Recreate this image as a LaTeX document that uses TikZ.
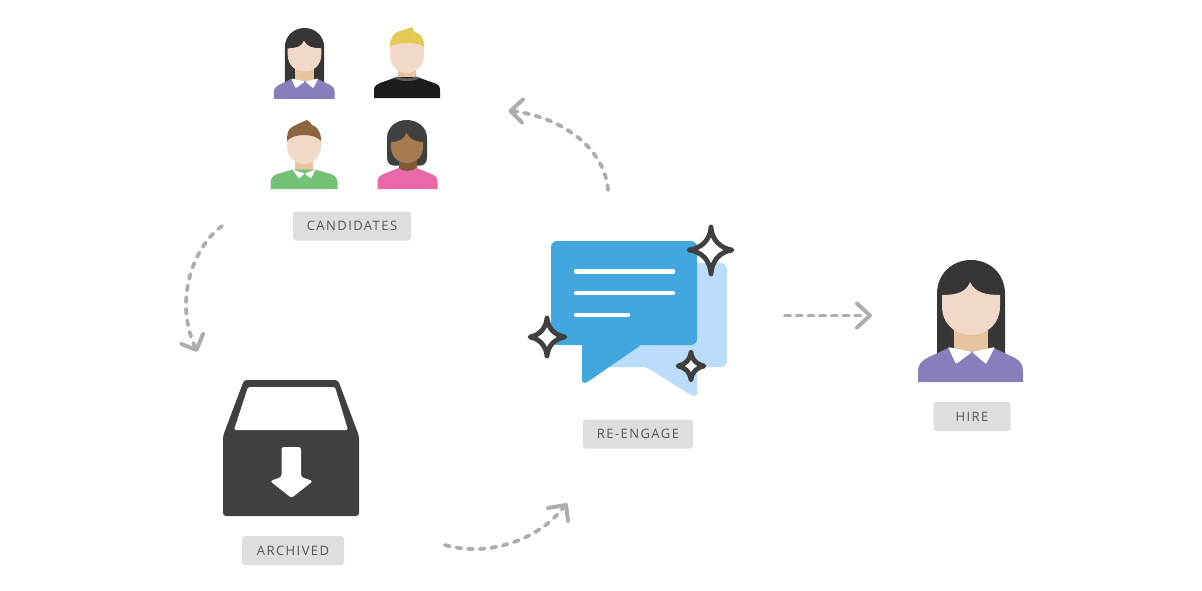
\documentclass[tikz,border=0pt]{standalone}
\usepackage{fontspec}
\setmainfont[LetterSpace=11]{Open Sans}
\definecolor{hairdark}{HTML}{363636}
\definecolor{skin}{HTML}{F2D8C6}
\definecolor{neck}{HTML}{E8C3A2}
\definecolor{purple}{HTML}{8A7DBB}
\definecolor{boxgray}{HTML}{DEDEDE}
\definecolor{txt}{HTML}{555555}
\definecolor{arrowgray}{HTML}{ADADAD}
\definecolor{bubble}{HTML}{42A6DF}
\definecolor{bubblelight}{HTML}{BBDCFB}
\definecolor{ink}{HTML}{404040}
\definecolor{blond}{HTML}{E5C955}
\definecolor{shirtblack}{HTML}{1C1C1C}
\definecolor{collargray}{HTML}{5A5A5A}
\definecolor{brownhair}{HTML}{8B6540}
\definecolor{shirtgreen}{HTML}{74C276}
\definecolor{shirtpink}{HTML}{EB68A8}
\definecolor{darkskin}{HTML}{A67B50}
\definecolor{darkneck}{HTML}{7D5A34}
\tikzset{
  labelbox/.style={fill=boxgray,rounded corners=3pt,minimum height=29pt,text=txt,font=\fontsize{13}{15}\selectfont,inner sep=0pt,anchor=center},
  flow/.style={draw=arrowgray,line width=3.8pt,line cap=round,dash pattern=on 5pt off 6.7pt},
  chev/.style={draw=arrowgray,line width=4pt,line cap=round,line join=round},
  spark/.style={draw=ink,line width=4.8pt,fill=white,line join=round,line cap=round},
  textline/.style={draw=white,line width=4.5pt,line cap=round},
}
% long-haired woman, coordinates: origin at top centre of hair, full size
\newcommand{\womanicon}[1]{%
  \fill[hairdark] (-34,96) -- (-34,34) .. controls (-34,13) and (-18,0) .. (0,0) .. controls (18,0) and (34,13) .. (34,34) -- (34,96) -- cycle;
  \fill[neck] (-17,60) rectangle (17,96);
  \fill[skin] (-29,35) .. controls (-16,35) and (-5,33) .. (-1,22) .. controls (4,33) and (16,35) .. (29,35) -- (29,46) .. controls (29,64) and (16,75) .. (0,75) .. controls (-16,75) and (-29,64) .. (-29,46) -- cycle;
  \fill[#1] (-53,122) -- (-53,111) .. controls (-53,104) and (-49,101) .. (-44,98) -- (-23,88) -- (1,92) -- (23,88) -- (44,98) .. controls (49,101) and (52,104) .. (52,111) -- (52,122) -- cycle;
  \fill[white,rounded corners=1pt] (-23,87) -- (1,92) -- (-15,104) -- cycle;
  \fill[white,rounded corners=1pt] (24,87) -- (1,92) -- (15,104) -- cycle;
}
\begin{document}
\begin{tikzpicture}[x=1pt,y=-1pt]
\useasboundingbox (0,0) rectangle (1202,590);
% hire
\begin{scope}[shift={(971,260)}]\womanicon{purple}\end{scope}
% candidate 1
\begin{scope}[shift={(304.5,28)},scale=0.58]\womanicon{purple}\end{scope}
% candidate 2 blond man
\begin{scope}[shift={(407,27)}]
  \fill[neck] (-9,30) rectangle (9,56);
  \fill[shirtblack] (-33,71) -- (-33,63) .. controls (-33,59) and (-30,57) .. (-27,56) -- (-10,50) -- (10,50) -- (27,56) .. controls (31,57) and (33,59) .. (33,63) -- (33,71) -- cycle;
  \fill[collargray] (-13,51) -- (-9,49.5) .. controls (-5,52) and (5,52) .. (9,49.5) -- (13,51) .. controls (7,55) and (-7,55) .. (-13,51) -- cycle;
  \fill[skin] (-17,14) -- (17,14) -- (17,28) .. controls (17,39) and (9,46) .. (0,46) .. controls (-9,46) and (-17,39) .. (-17,28) -- cycle;
  \fill[blond] (-17,20) .. controls (-17,12) and (-14,7) .. (-10,5) .. controls (-5,3) and (1,2) .. (5,0) .. controls (6,1.5) and (7,3) .. (7,5) .. controls (12,5) and (17,10) .. (17,20) .. controls (14,17) and (8,16) .. (0,16) .. controls (-8,16) and (-14,17) .. (-17,20) -- cycle;
\end{scope}
% candidate 3 brown hair man
\begin{scope}[shift={(304,120)}]
  \fill[neck] (-9,30) rectangle (9,56);
  \fill[shirtgreen] (-33.5,69) -- (-33.5,62) .. controls (-33.5,58) and (-30,55) .. (-27,54) -- (-11,49.5) -- (11,49.5) -- (27,54) .. controls (30,55) and (33.5,58) .. (33.5,62) -- (33.5,69) -- cycle;
  \fill[white,rounded corners=.7pt] (-11.5,49.5) -- (0.7,53.5) -- (-5,58.5) -- cycle;
  \fill[white,rounded corners=.7pt] (11.5,49.5) -- (0.7,53.5) -- (7,58.5) -- cycle;
  \fill[skin] (-17,14) -- (17,14) -- (17,26) .. controls (17,37) and (9,44) .. (0,44) .. controls (-9,44) and (-17,37) .. (-17,26) -- cycle;
  \fill[brownhair] (-17,21) .. controls (-17,14) and (-16,9) .. (-12,7) .. controls (-7,4) and (-1,2) .. (3,0) .. controls (5,1) and (7,3) .. (8,5) .. controls (13,6) and (17,12) .. (17,21) .. controls (14,17) and (7,15) .. (0,15) .. controls (-7,15) and (-14,17) .. (-17,21) -- cycle;
\end{scope}
% candidate 4 dark-skinned woman
\begin{scope}[shift={(407.5,120)}]
  \fill[ink] (-10,45.5) -- (-14,45.5) .. controls (-18,45.5) and (-20.5,42) .. (-20.5,37) -- (-20.5,18) .. controls (-20.5,7) and (-11,0) .. (-1,0) .. controls (10,0) and (19.5,7) .. (19.5,18) -- (19.5,37) .. controls (19.5,42) and (17,45.5) .. (13,45.5) -- cycle;
  \fill[darkneck] (-9,30) rectangle (9,56);
  \fill[darkskin] (-16.5,22) .. controls (-9,22) and (-3,19) .. (-1,13) .. controls (2,19) and (8,22) .. (15.5,22) -- (15.5,27) .. controls (15.5,37) and (8,43) .. (-0.5,43) .. controls (-9,43) and (-16.5,37) .. (-16.5,27) -- cycle;
  \fill[shirtpink] (-30,69) -- (-30,62) .. controls (-30,57) and (-27,55) .. (-24,54) -- (-9,48) .. controls (-5,52) and (5,52) .. (9,48) -- (24,54) .. controls (27,55) and (30,57) .. (30,62) -- (30,69) -- cycle;
\end{scope}
% archive box
\fill[ink,rounded corners=3pt] (223,516) -- (223,436) -- (244,380) -- (338,380) -- (359,436) -- (359,516) -- cycle;
\fill[white,rounded corners=1.5pt] (248,387) -- (335,387) -- (348,430) -- (234,430) -- cycle;
\fill[white,rounded corners=2.5pt] (281.5,447) -- (301,447) -- (301,477) -- (313,481) -- (291.5,498) -- (270,481) -- (281.5,477) -- cycle;
% speech bubbles
\fill[bubblelight,rounded corners=6pt] (600,263) -- (727,263) -- (727,367) -- (600,367) -- cycle;
\fill[bubblelight,rounded corners=3pt] (620,346) -- (697,350) -- (697,397) -- (690,394.5) -- (646,367) -- (610,367) -- cycle;
\fill[bubble,rounded corners=6pt] (551,241) -- (697,241) -- (697,345) -- (551,345) -- cycle;
\fill[bubble,rounded corners=2.5pt] (582,340) -- (642,340) -- (641,345) -- (586,383) -- (582,383) -- cycle;
\draw[textline] (576,271.5) -- (673,271.5);
\draw[textline] (576,293) -- (673,293);
\draw[textline] (576,315) -- (628,315);
% sparkles
\draw[spark] (711,227) .. controls (712,240) and (720,248) .. (732,250) .. controls (720,252) and (712,260) .. (711,274) .. controls (710,260) and (702,252) .. (689,250) .. controls (702,248) and (710,240) .. (711,227) -- cycle;
\draw[spark] (547,318) .. controls (548,328) and (554,335) .. (565,337) .. controls (554,339) and (548,346) .. (547,356) .. controls (546,346) and (540,339) .. (530,337) .. controls (540,335) and (546,328) .. (547,318) -- cycle;
\draw[spark] (691,352) .. controls (692,360) and (696,364) .. (704,366) .. controls (696,368) and (692,372) .. (691,380) .. controls (690,372) and (686,368) .. (678,366) .. controls (686,364) and (690,360) .. (691,352) -- cycle;
% labels
\node[labelbox,minimum width=118pt] (candidates) at (352,226) {CANDIDATES};
\node[labelbox,minimum width=110pt] (reengage) at (638,434) {RE-ENGAGE};
\node[labelbox,minimum width=77pt] (hire) at (972,416.5) {HIRE};
\node[labelbox,minimum width=102pt] (archived) at (293,550.5) {ARCHIVED};
% connectors
\coordinate (a1) at (222,226); \coordinate (a2) at (195,347);
\coordinate (b1) at (445,545); \coordinate (b2) at (563,508);
\coordinate (c1) at (608,190); \coordinate (c2) at (513,111);
\coordinate (d1) at (785,315.5); \coordinate (d2) at (866,315.5);
\draw[flow] (a1) .. controls (195,245) and (173,298) .. (a2);
\draw[chev] (181.5,344) -- (196.5,350) -- (203,334);
\draw[flow] (b1) .. controls (490,558) and (540,538) .. (b2);
\draw[chev] (548,508) -- (566,505) -- (568,521);
\draw[flow] (c1) .. controls (605,150) and (565,118) .. (c2);
\draw[chev] (523,99.5) -- (510.5,111) -- (522,122.5);
\draw[flow] (d1) -- (d2);
\draw[chev] (857,303.5) -- (870,315.5) -- (857,327.5);
\end{tikzpicture}
\end{document}
